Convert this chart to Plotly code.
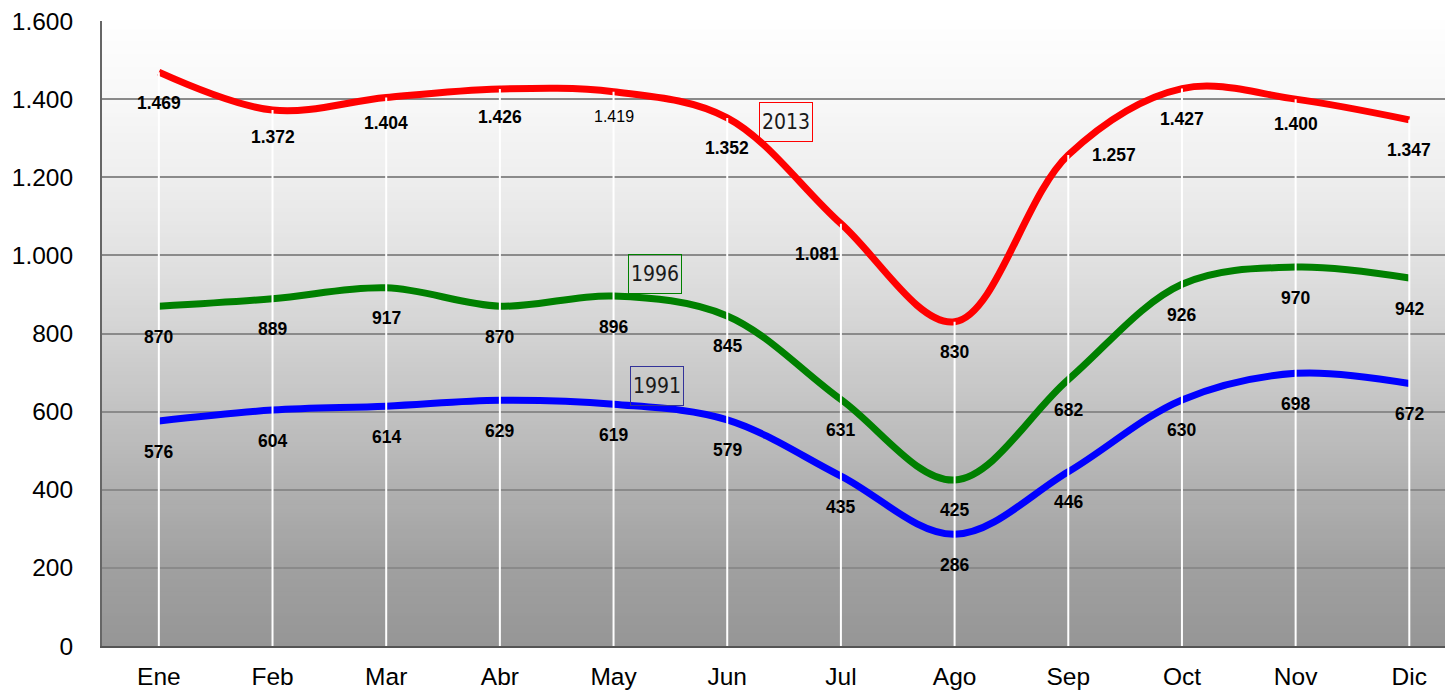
import plotly.graph_objects as go

months = ["Ene", "Feb", "Mar", "Abr", "May", "Jun", "Jul", "Ago", "Sep", "Oct", "Nov", "Dic"]
y2013 = [1469, 1372, 1404, 1426, 1419, 1352, 1081, 830, 1257, 1427, 1400, 1347]
y1996 = [870, 889, 917, 870, 896, 845, 631, 425, 682, 926, 970, 942]
y1991 = [576, 604, 614, 629, 619, 579, 435, 286, 446, 630, 698, 672]
series_names = ["2013", "1996", "1991"]
ytick_vals = [0, 200, 400, 600, 800, 1000, 1200, 1400, 1600]

series = [y2013, y1996, y1991]
colors = ["#ff0000", "#008000", "#0000ff"]
box_colors = ["#ff0000", "#008000", "#333399"]
box_pos = [(5.513, 1341), (4.365, 952), (4.382, 666)]

FONT = "Arial, Liberation Sans, sans-serif"


def fmt(v):
    return f"{v:,}".replace(",", ".")


fig = go.Figure()

# gradient background bands
stops = [(0.0, 0x96), (0.125, 0xa0), (0.25, 0xb0), (0.375, 0xc2), (0.5, 0xd3),
         (0.625, 0xe2), (0.75, 0xee), (0.875, 0xf8), (1.0, 0xfe)]


def gray_at(t):
    for (t0, c0), (t1, c1) in zip(stops[:-1], stops[1:]):
        if t0 <= t <= t1:
            return c0 + (c1 - c0) * (t - t0) / (t1 - t0)
    return stops[-1][1]


nb = 150
for k in range(nb):
    t0 = k / nb
    t1 = (k + 1) / nb
    g = int(round(gray_at((t0 + t1) / 2)))
    col = f"rgb({g},{g},{g})"
    fig.add_shape(type="rect", xref="x domain", yref="y domain",
                  x0=0, x1=1, y0=t0, y1=t1 + 0.002,
                  fillcolor=col, line=dict(width=0), layer="below")

xs = list(range(len(months)))
for vals, col, name in zip(series, colors, series_names):
    fig.add_trace(go.Scatter(x=xs, y=vals, mode="lines", name=name,
                             line=dict(color=col, width=7, shape="spline", smoothing=1.0),
                             showlegend=False, hoverinfo="skip"))

# drop lines (white) from the top series to the axis
dx, dy = [], []
for i in xs:
    top = max(s[i] for s in series)
    dx += [i, i, None]
    dy += [0, top, None]
fig.add_trace(go.Scatter(x=dx, y=dy, mode="lines", line=dict(color="white", width=2),
                         showlegend=False, hoverinfo="skip"))

# data labels
overrides = {
    (0, 1): dict(yshift=-27),
    (0, 2): dict(yshift=-25),
    (0, 3): dict(yshift=-28),
    (0, 4): dict(yshift=-25, weight="normal", size=16),
    (0, 6): dict(xshift=-24),
    (0, 8): dict(xshift=46, yshift=0),
    (0, 10): dict(yshift=-25),
}
for si, vals in enumerate(series):
    for i, v in enumerate(vals):
        o = overrides.get((si, i), {})
        fig.add_annotation(x=i, y=v, text=fmt(v), showarrow=False,
                           xshift=o.get("xshift", 0), yshift=o.get("yshift", -30.5),
                           font=dict(family=FONT, size=o.get("size", 17.5), color="black",
                                     weight=o.get("weight", "bold")))

# series name boxes
for name, bc, (bx, by) in zip(series_names, box_colors, box_pos):
    fig.add_annotation(x=bx, y=by, text=name, showarrow=False,
                       width=52, height=38, borderpad=0,
                       bordercolor=bc, borderwidth=1,
                       font=dict(family="Liberation Sans Narrow, Arial Narrow, DejaVu Sans Condensed, Liberation Sans, sans-serif",
                                 size=21, color="#1a1a1a"))

fig.update_layout(
    width=1445, height=695,
    margin=dict(l=102, r=0, t=21, b=48.5),
    paper_bgcolor="white", plot_bgcolor="rgba(0,0,0,0)",
    separators=",.",
    font=dict(family=FONT, color="black"),
    showlegend=False,
)
fig.update_xaxes(
    range=[-0.5, 11.314], tickvals=xs, ticktext=months,
    showgrid=False, zeroline=False,
    showline=True, linecolor="#555555", linewidth=2,
    ticks="", ticklabelstandoff=8,
    tickfont=dict(family=FONT, size=24.5, color="black"),
)
fig.update_yaxes(
    range=[0, 1600], tickvals=ytick_vals, separatethousands=True, tickformat=",d",
    showgrid=True, gridcolor="#8a8a8a", gridwidth=2,
    zeroline=False, showline=True, linecolor="#666666", linewidth=2,
    ticks="", ticklabelstandoff=22,
    tickfont=dict(family=FONT, size=24.5, color="black"),
)

fig.write_html("out.html", config={"displayModeBar": False},
               post_script="document.body.style.margin='0px';document.body.style.overflow='hidden';")
